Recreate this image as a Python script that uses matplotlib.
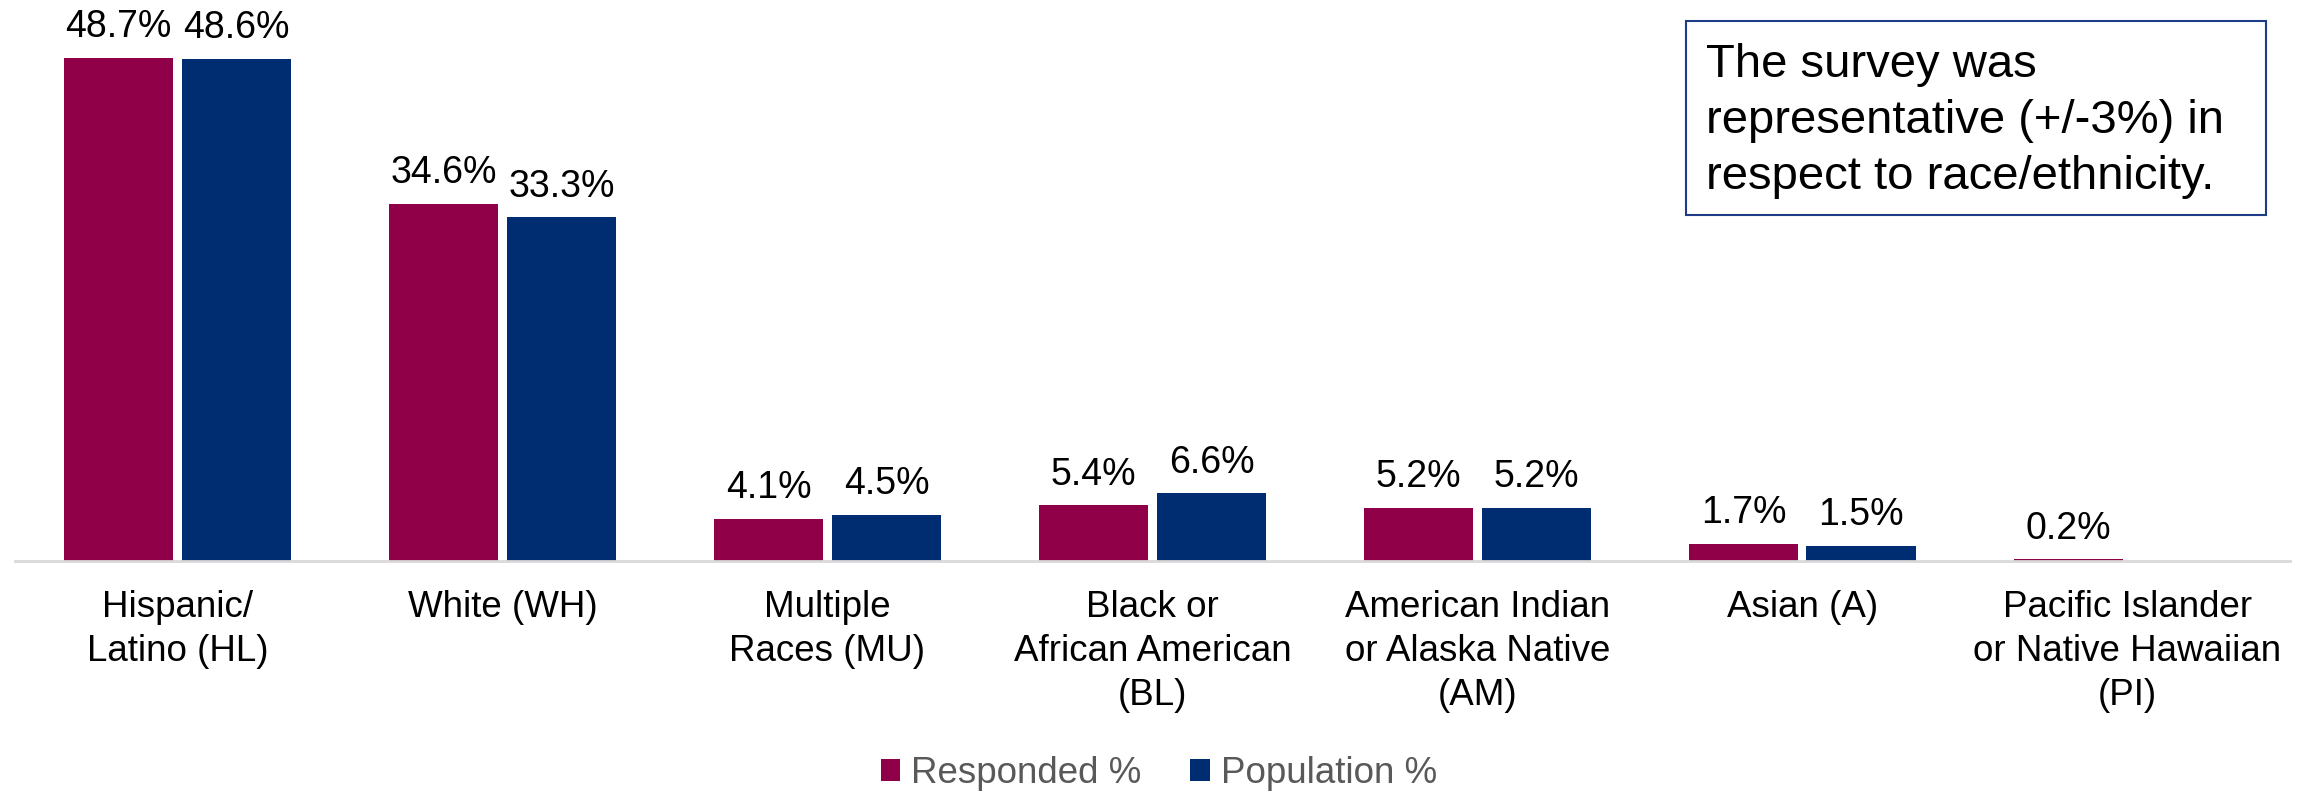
import matplotlib.pyplot as plt
from matplotlib.patches import Rectangle
import numpy as np

## Data
categories = ['Hispanic/\nLatino (HL)', 'White (WH)', 'Multiple\nRaces (MU)',
              'Black or\nAfrican American\n(BL)', 'American Indian\nor Alaska Native\n(AM)',
              'Asian (A)', 'Pacific Islander\nor Native Hawaiian\n(PI)']
responded = [48.7, 34.6, 4.1, 5.4, 5.2, 1.7, 0.2]
population = [48.6, 33.3, 4.5, 6.6, 5.2, 1.5, None]  # no PI population bar shown

plt.rcParams['font.family'] = ['Liberation Sans', 'DejaVu Sans']

red = '#900048'
blue = '#002D72'

fig = plt.figure(figsize=(23.1, 7.95), dpi=100)
ax = fig.add_axes([0.0065, 0.294, 0.9848, 0.65])

x = np.arange(len(categories))
w = 0.338
off = w / 2 + 0.0125

pop_vals = [v if v is not None else 0 for v in population]
ax.bar(x - off, responded, w, color=red, label='Responded %')
ax.bar(x + off, pop_vals, w, color=blue, label='Population %')

# value labels above bars
for xi, v in zip(x, responded):
    ax.annotate(f'{v:.1f}%', (xi - off, v), xytext=(0, 9), textcoords='offset points',
                ha='center', va='bottom', fontsize=27, color='black', annotation_clip=False)
for xi, v in zip(x, population):
    if v is None:
        continue
    ax.annotate(f'{v:.1f}%', (xi + off, v), xytext=(0, 9), textcoords='offset points',
                ha='center', va='bottom', fontsize=27, color='black', annotation_clip=False)

ax.set_xlim(-0.5, len(categories) - 0.5)
ax.set_ylim(0, 50)
ax.set_yticks([])
ax.set_xticks(x)
ax.set_xticklabels(categories, fontsize=26.5, linespacing=1.33)
ax.tick_params(axis='x', length=0, pad=21)
for s in ['top', 'right', 'left']:
    ax.spines[s].set_visible(False)
ax.spines['bottom'].set_color('#D9D9D9')
ax.spines['bottom'].set_linewidth(2)

leg = fig.legend(loc='center', bbox_to_anchor=(0.5017, 0.027), ncol=2, frameon=False,
                 fontsize=26.5, handlelength=0.52, handleheight=0.52, handletextpad=0.3,
                 columnspacing=1.33)
for t in leg.get_texts():
    t.set_color('#595959')

# annotation box in the upper right
fig.patches.append(Rectangle((0.7299, 0.7296), 0.2511, 0.2440, transform=fig.transFigure,
                             facecolor='white', edgecolor='#1F3C88', linewidth=1.5, zorder=3))
fig.text(0.7385, 0.946, 'The survey was\nrepresentative (+/-3%) in\nrespect to race/ethnicity.',
         fontsize=34, va='top', ha='left', linespacing=1.36, zorder=4)

fig.savefig('out.png', dpi=100)
